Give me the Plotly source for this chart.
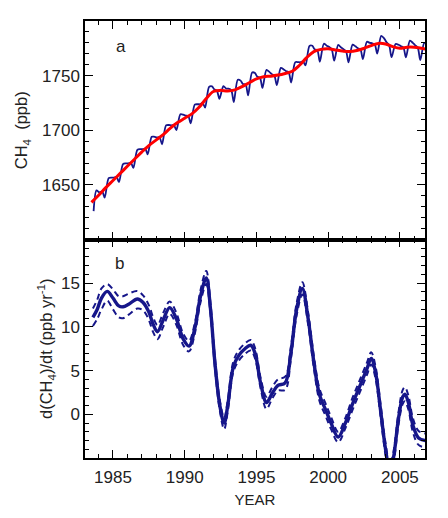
import plotly.graph_objects as go
from plotly.subplots import make_subplots

# ---------------- Panel a data ----------------
blue_years = [1983.65, 1983.85]
blue_ch4 = [1626, 1645]
seasonal_phases = [0.05, 0.25, 0.42, 0.70, 0.90]
years_full = list(range(1984, 2007))
blue_by_year = {
    1984: [1643.2, 1644.0, 1638.4, 1656.1, 1656.7],
    1985: [1656.7, 1657.3, 1652.5, 1669.1, 1669.7],
    1986: [1669.7, 1670.3, 1665.5, 1682.1, 1682.7],
    1987: [1682.6, 1683.0, 1678.0, 1694.0, 1694.0],
    1988: [1693.5, 1693.5, 1687.2, 1704.4, 1704.8],
    1989: [1704.5, 1704.5, 1700.2, 1714.6, 1714.2],
    1990: [1713.4, 1713.0, 1706.4, 1723.4, 1723.8],
    1991: [1723.8, 1725.0, 1720.7, 1739.6, 1740.2],
    1992: [1737.6, 1736.0, 1728.8, 1740.3, 1738.1],
    1993: [1738.1, 1736.5, 1725.8, 1746.2, 1745.4],
    1994: [1742.4, 1741.8, 1731.9, 1752.9, 1752.3],
    1995: [1749.2, 1748.0, 1738.7, 1755.2, 1753.4],
    1996: [1751.6, 1750.0, 1741.3, 1757.1, 1755.7],
    1997: [1754.2, 1753.0, 1743.7, 1762.2, 1762.4],
    1998: [1762.2, 1763.0, 1759.4, 1777.2, 1777.4],
    1999: [1774.2, 1773.0, 1762.7, 1779.2, 1777.4],
    2000: [1776.4, 1774.0, 1763.7, 1778.1, 1775.7],
    2001: [1774.4, 1772.2, 1762.1, 1778.4, 1776.8],
    2002: [1775.2, 1774.0, 1765.2, 1781.0, 1780.0],
    2003: [1779.7, 1778.5, 1770.2, 1786.3, 1784.1],
    2004: [1780.9, 1777.8, 1766.9, 1778.9, 1778.3],
    2005: [1777.1, 1775.5, 1766.8, 1782.0, 1780.0],
    2006: [1778.0, 1775.5, 1764.2, 1780.0, 1778.0],
}
for yr in years_full:
    for ph, v in zip(seasonal_phases, blue_by_year[yr]):
        blue_years.append(yr + ph)
        blue_ch4.append(v)

trend_years = [1983.5, 1984.0, 1984.5, 1985.0, 1985.5, 1986.0, 1986.5, 1987.0, 1987.5,
               1988.0, 1988.5, 1989.0, 1989.5, 1990.0, 1990.5, 1991.0, 1991.5, 1992.0,
               1992.5, 1993.0, 1993.5, 1994.0, 1994.5, 1995.0, 1995.5, 1996.0, 1996.5,
               1997.0, 1997.5, 1998.0, 1998.5, 1999.0, 1999.5, 2000.0, 2000.5, 2001.0,
               2001.5, 2002.0, 2002.5, 2003.0, 2003.5, 2004.0, 2004.5, 2005.0, 2005.5,
               2006.0, 2006.5, 2006.9]
trend_ch4 = [1634, 1640.5, 1647.5, 1654, 1660.5, 1667, 1673.5, 1680, 1686,
             1691, 1696, 1702, 1707, 1711, 1715, 1721, 1729, 1735.5,
             1736.5, 1736, 1737, 1740, 1743.5, 1747, 1749, 1749.5, 1750.5,
             1752, 1754, 1759.5, 1766.5, 1772, 1774, 1774.5, 1773.5, 1772.5,
             1772, 1773, 1775, 1777.5, 1779.5, 1779, 1776.5, 1775, 1776,
             1776, 1775, 1774]

# ---------------- Panel b data ----------------
rate_years = [1983.6, 1983.9, 1984.2, 1984.6, 1985.0, 1985.4, 1985.7, 1986.1, 1986.7,
              1987.1, 1987.5, 1987.8, 1988.1, 1988.5, 1988.95, 1989.4, 1989.9, 1990.3,
              1990.7, 1991.1, 1991.5, 1991.8, 1992.1, 1992.45, 1992.75, 1993.0, 1993.4,
              1993.8, 1994.2, 1994.6, 1994.9, 1995.3, 1995.7, 1996.1, 1996.5, 1997.0,
              1997.4, 1997.8, 1998.2, 1998.6, 1999.0, 1999.4, 1999.8, 2000.2, 2000.7,
              2001.2, 2001.7, 2002.2, 2002.7, 2003.0, 2003.3, 2003.65, 2004.0, 2004.3,
              2004.55, 2004.9, 2005.2, 2005.35, 2005.6, 2005.9, 2006.3, 2006.8]
rate = [11.1, 12.0, 13.3, 14.06, 13.3, 12.4, 12.3, 12.6, 13.2,
        12.8, 11.7, 10.3, 9.45, 10.8, 12.2, 11.0, 8.6, 7.8,
        9.8, 13.5, 15.6, 12.0, 6.0, 1.0, -1.0, 1.0, 5.5,
        6.8, 7.5, 7.9, 7.0, 3.5, 1.35, 2.4, 3.3, 3.6,
        7.0, 12.0, 14.4, 11.0, 6.0, 2.2, 0.6, -1.0, -2.6,
        -1.0, 1.2, 3.2, 5.2, 6.4, 4.8, 0.5, -4.0, -6.5,
        -5.0, -0.5, 2.0, 2.3, 1.3, -1.2, -2.7, -3.0]
rate_upper = [12.1, 13.1, 14.4, 14.9, 14.3, 13.5, 13.5, 13.8, 14.1,
              13.6, 12.5, 11.1, 10.2, 11.6, 12.9, 11.7, 9.2, 8.4,
              10.4, 14.2, 16.4, 12.7, 6.6, 1.6, -0.4, 1.6, 6.1,
              7.4, 8.1, 8.5, 7.6, 4.1, 2.0, 3.1, 4.0, 4.3,
              7.7, 12.7, 15.1, 11.7, 6.7, 2.9, 1.3, -0.3, -2.0,
              -0.4, 1.9, 3.9, 5.9, 7.1, 5.5, 1.2, -3.3, -5.8,
              -4.3, 0.2, 2.8, 3.1, 2.1, -0.4, -1.9, -2.2]
rate_lower = [10.1, 10.9, 12.0, 13.0, 12.0, 11.1, 11.0, 11.4, 12.1,
              11.9, 10.8, 9.4, 8.6, 10.0, 11.5, 10.3, 7.9, 7.2,
              9.2, 12.8, 14.9, 11.4, 5.4, 0.4, -1.7, 0.3, 4.9,
              6.2, 6.9, 7.3, 6.4, 2.9, 0.6, 1.8, 2.7, 2.8,
              6.3, 11.3, 13.7, 10.3, 5.3, 1.5, -0.1, -1.7, -3.2,
              -1.6, 0.5, 2.5, 4.5, 5.7, 4.1, -0.2, -4.7, -7.2,
              -5.7, -1.2, 1.2, 1.5, 0.5, -2.0, -3.5, -3.8]

NAVY = "#16168a"
FONT = "Liberation Sans, Arial, sans-serif"
TXT = "#222222"

fig = make_subplots(rows=2, cols=1, shared_xaxes=True, vertical_spacing=0)

fig.add_trace(go.Scatter(x=blue_years, y=blue_ch4, mode="lines",
                         line=dict(color=NAVY, width=1.8, shape="spline", smoothing=0.8)),
              row=1, col=1)
fig.add_trace(go.Scatter(x=trend_years, y=trend_ch4, mode="lines",
                         line=dict(color="#ff0000", width=3, shape="spline")),
              row=1, col=1)

fig.add_hline(y=0, row=2, col=1, line=dict(color="#777777", width=1, dash="dash"))
for arr in (rate_upper, rate_lower):
    fig.add_trace(go.Scatter(x=rate_years, y=arr, mode="lines",
                             line=dict(color=NAVY, width=2, dash="6px,4px", shape="spline")),
                  row=2, col=1)
fig.add_trace(go.Scatter(x=rate_years, y=rate, mode="lines",
                         line=dict(color=NAVY, width=3.4, shape="spline")),
              row=2, col=1)

common_x = dict(range=[1983.05, 2006.75], tick0=1985, dtick=5, ticks="inside", ticklen=8,
                tickwidth=1.3, tickcolor="black", showline=True, linecolor="black",
                linewidth=1.5, mirror="ticks", showgrid=False, zeroline=False,
                minor=dict(ticks="inside", ticklen=4, dtick=1, tick0=1985,
                           tickcolor="black", tickwidth=1.2, showgrid=False))
fig.update_xaxes(**common_x, showticklabels=False, row=1, col=1)
fig.update_xaxes(**common_x, showticklabels=True, row=2, col=1, ticklabelstandoff=3,
                 tickfont=dict(size=17, family=FONT, color=TXT),
                 title=dict(text="YEAR", font=dict(size=15, family=FONT, color=TXT),
                            standoff=8))

common_y = dict(ticks="inside", ticklen=8, tickwidth=1.3, tickcolor="black", showline=True,
                linecolor="black", linewidth=1.5, mirror="ticks", showgrid=False,
                zeroline=False, tickfont=dict(size=17, family=FONT, color=TXT))
fig.update_yaxes(**common_y, range=[1600, 1800], tickmode="array",
                 tickvals=[1650, 1700, 1750],
                 minor=dict(ticks="inside", ticklen=4, tickmode="linear", tick0=1600,
                            dtick=10, tickcolor="black", tickwidth=1.2),
                 title=dict(text="CH<sub>4</sub>  (ppb)",
                            font=dict(size=16.5, family=FONT, color=TXT), standoff=10),
                 row=1, col=1)
fig.update_yaxes(**common_y, range=[-5, 20], tickmode="array", tickvals=[0, 5, 10, 15],
                 minor=dict(ticks="inside", ticklen=4, tickmode="linear", tick0=-5,
                            dtick=1, tickcolor="black", tickwidth=1.2),
                 title=dict(text="d(CH<sub>4</sub>)/dt (ppb yr<sup>-1</sup>)",
                            font=dict(size=16.5, family=FONT, color=TXT), standoff=4),
                 row=2, col=1)

fig.add_annotation(text="a", xref="x domain", yref="y domain", x=0.085, y=0.935,
                   showarrow=False, font=dict(size=17, family=FONT, color=TXT))
fig.add_annotation(text="b", xref="x2 domain", yref="y2 domain", x=0.082, y=0.945,
                   showarrow=False, font=dict(size=17, family=FONT, color=TXT))

# the page body has an 8 px default margin, so the figure is 8 px smaller
fig.update_layout(width=440, height=510, margin=dict(l=77, r=23, t=11, b=60),
                  paper_bgcolor="white", plot_bgcolor="white", showlegend=False)

fig.write_html("out.html")
